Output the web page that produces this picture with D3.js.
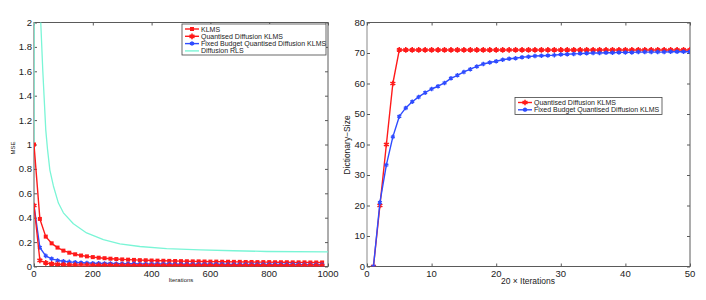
<!DOCTYPE html>
<html>
<head>
<meta charset="UTF-8">
<style>
  body{margin:0;background:#fff}
  svg{display:block;font-family:'Liberation Sans',Arial,sans-serif}
  .tick-label{font-size:9.5px;fill:#222}
  .leg text{font-size:7px;fill:#222}
</style>
</head>
<body>
<div id="chart"></div>
<script src="https://d3js.org/d3.v7.min.js"></script>
<script>
/* data : left panel (MSE vs iterations) */
const iters=[0,20,40,60,80,100,120,140,160,180,200,220,240,260,280,300,320,340,360,380,
             400,420,440,460,480,500,520,540,560,580,600,620,640,660,680,700,720,740,760,780,
             800,820,840,860,880,900,920,940,960,980];
const klms=[1.0,0.39,0.245,0.19,0.155,0.13,0.113,0.1,0.09,0.083,0.077,0.072,0.068,0.064,0.061,0.058,0.056,0.054,0.052,0.051,
            0.049,0.048,0.047,0.046,0.045,0.044,0.043,0.042,0.042,0.041,0.040,0.040,0.039,0.039,0.038,0.038,0.037,0.037,0.036,0.036,
            0.036,0.035,0.035,0.035,0.034,0.034,0.034,0.033,0.033,0.033];
const qdklms=[0.5,0.05,0.03,0.022,0.018,0.015,0.013,0.012,0.011,0.011,0.010,0.010,0.010,0.009,0.009,0.009,0.009,0.008,0.008,0.008,
              0.008,0.008,0.008,0.007,0.007,0.007,0.007,0.007,0.007,0.007,0.007,0.006,0.006,0.006,0.006,0.006,0.006,0.006,0.006,0.006,
              0.006,0.006,0.006,0.006,0.005,0.005,0.005,0.005,0.005,0.005];
const fbklms=[0.5,0.155,0.087,0.063,0.05,0.043,0.038,0.034,0.031,0.029,0.027,0.026,0.025,0.024,0.023,0.023,0.022,0.022,0.021,0.021,
              0.021,0.020,0.020,0.020,0.019,0.019,0.019,0.019,0.018,0.018,0.018,0.018,0.018,0.017,0.017,0.017,0.017,0.017,0.017,0.016,
              0.016,0.016,0.016,0.016,0.016,0.016,0.015,0.015,0.015,0.015];
const rlsIters=[0,2,23,30,40,46,54,66,83,100,134,179,236,292,360,451,565,678,791,1000];
const rlsMse=[1.0,6.0,2.0,1.6,1.12,0.96,0.79,0.66,0.52,0.44,0.35,0.275,0.22,0.186,0.164,0.146,0.137,0.129,0.123,0.12];

/* data : right panel (dictionary size) */
const steps=[1,2,3,4,5,6,7,8,9,10,11,12,13,14,15,16,17,18,19,20,21,22,23,24,25,
             26,27,28,29,30,31,32,33,34,35,36,37,38,39,40,41,42,43,44,45,46,47,48,49,50];
const qdDict=[0,20,40,60,71,71,71,71,71,71,71,71,71,71,71,71,71,71,71,71,71,71,71,71,71,
              71,71,71,71,71,71,71,71,71,71,71,71,71,71,71,71,71,71,71,71,71,71,71,71,71];
const fbDict=[0,21,33.3,42.5,49.2,52,54,55.6,57,58.2,59.1,60.2,61.7,62.7,63.8,64.7,65.6,66.4,66.9,67.3,67.8,68.1,68.3,68.6,68.8,
              69.0,69.1,69.2,69.3,69.5,69.6,69.7,69.8,69.9,70.0,70.0,70.1,70.1,70.2,70.2,70.2,70.3,70.3,70.3,70.3,70.3,70.4,70.4,70.4,70.4];

const leftXTicks=[0,200,400,600,800,1000];
const leftYTicks=[0,0.2,0.4,0.6,0.8,1,1.2,1.4,1.6,1.8,2];
const rightXTicks=[0,10,20,30,40,50];
const rightYTicks=[0,10,20,30,40,50,60,70,80];

const RED="#ff1a1a", BLUE="#2f4cff", CYAN="#7af5d6", AX="#5a5a5a";

const svg=d3.select("#chart").append("svg").attr("width",706).attr("height",300);
svg.append("rect").attr("width",706).attr("height",300).attr("fill","#fff");

/* markers */
function mark(g,type,color,x,y){
  if(type==="sq"){
    g.append("rect").attr("x",x-2).attr("y",y-2).attr("width",4).attr("height",4).attr("fill",color);
  }else if(type==="star"){
    g.append("path").attr("transform",`translate(${x},${y})`)
     .attr("d",d3.symbol(d3.symbolAsterisk,22)()).attr("stroke",color).attr("stroke-width",1.6).attr("fill","none");
  }else if(type==="x"){
    g.append("path").attr("transform",`translate(${x},${y})`)
     .attr("d",d3.symbol(d3.symbolAsterisk,14)()).attr("stroke",color).attr("stroke-width",1.4).attr("fill","none");
  }
}

function panel(o){
  const x=d3.scaleLinear().domain(o.xd).range(o.xr),
        y=d3.scaleLinear().domain(o.yd).range(o.yr);
  const g=svg.append("g");
  const clipId="clip"+o.id;
  svg.append("clipPath").attr("id",clipId).append("rect")
     .attr("x",o.xr[0]).attr("y",o.yr[1]).attr("width",o.xr[1]-o.xr[0]).attr("height",o.yr[0]-o.yr[1]);

  // box
  g.append("rect").attr("x",o.xr[0]).attr("y",o.yr[1]).attr("width",o.xr[1]-o.xr[0]).attr("height",o.yr[0]-o.yr[1])
   .attr("fill","none").attr("stroke",AX).attr("stroke-width",1);
  if(o.leftAxisColor){
    g.append("line").attr("x1",o.xr[0]).attr("x2",o.xr[0]).attr("y1",o.yr[1]).attr("y2",o.yr[0])
     .attr("stroke",o.leftAxisColor).attr("stroke-width",2);
  }
  // inward ticks, all four sides
  const bottom=d3.axisBottom(x).tickValues(o.xt).tickSize(-3).tickFormat("").tickSizeOuter(0);
  const top=d3.axisTop(x).tickValues(o.xt).tickSize(-3).tickFormat("").tickSizeOuter(0);
  const left=d3.axisLeft(y).tickValues(o.yt).tickSize(-3).tickFormat("").tickSizeOuter(0);
  const right=d3.axisRight(y).tickValues(o.yt).tickSize(-3).tickFormat("").tickSizeOuter(0);
  [[bottom,`translate(0,${o.yr[0]})`],[top,`translate(0,${o.yr[1]})`],
   [left,`translate(${o.xr[0]},0)`],[right,`translate(${o.xr[1]},0)`]].forEach(([a,t])=>{
    const ag=g.append("g").attr("transform",t).call(a);
    ag.select(".domain").remove();
    ag.selectAll("line").attr("stroke",AX);
  });
  // tick labels
  g.selectAll(null).data(o.xt).enter().append("text").attr("class","tick-label")
   .attr("x",d=>x(d)).attr("y",o.yr[0]+10).attr("text-anchor","middle").text(d=>d);
  g.selectAll(null).data(o.yt).enter().append("text").attr("class","tick-label")
   .attr("x",o.xr[0]-2).attr("y",d=>y(d)+3.4).attr("text-anchor","end").text(d=>d3.format("~g")(d));

  const plot=g.append("g").attr("clip-path",`url(#${clipId})`);
  o.series.forEach(s=>{
    const pts=s.xs.map((v,i)=>[x(v),y(s.ys[i])]);
    plot.append("path").attr("d",d3.line()(pts)).attr("fill","none")
        .attr("stroke",s.color).attr("stroke-width",s.w||1.4).attr("stroke-linejoin","round");
    if(s.marker) pts.forEach(p=>mark(plot,s.marker,s.color,p[0],p[1]));
  });
  return {x,y,g};
}

/* left panel */
const L=panel({id:"L",xd:[0,1000],xr:[34,328],yd:[0,2],yr:[266.5,22.5],xt:leftXTicks,yt:leftYTicks,
  series:[
    {xs:rlsIters,ys:rlsMse,color:CYAN,w:1.3},
    {xs:iters,ys:klms,color:RED,marker:"sq"},
    {xs:iters,ys:fbklms,color:BLUE,marker:"x"},
    {xs:iters,ys:qdklms,color:RED,marker:"star"}
  ]});
svg.append("text").attr("transform","translate(15,148) rotate(-90)").attr("text-anchor","middle")
   .style("font-size","6px").attr("fill","#222").text("MSE");
svg.append("text").attr("x",181).attr("y",282).attr("text-anchor","middle")
   .style("font-size","6px").attr("fill","#222").text("Iterations");

/* right panel */
const R=panel({id:"R",xd:[0,50],xr:[367,690],yd:[0,80],yr:[266.5,22.5],xt:rightXTicks,yt:rightYTicks,
  leftAxisColor:"#c4c4c4",
  series:[
    {xs:steps,ys:qdDict,color:RED,marker:"star"},
    {xs:steps,ys:fbDict,color:BLUE,marker:"x"}
  ]});
svg.append("text").attr("transform","translate(350,145) rotate(-90)").attr("text-anchor","middle")
   .style("font-size","8.5px").attr("fill","#222").text("Dictionary\u2212Size");
svg.append("text").attr("x",528).attr("y",284).attr("text-anchor","middle")
   .style("font-size","8.5px").attr("fill","#222").text("20 \u00d7 Iterations");

/* legends */
function legend(x0,y0,w,h,items){
  const lg=svg.append("g").attr("class","leg");
  lg.append("rect").attr("x",x0).attr("y",y0).attr("width",w).attr("height",h)
    .attr("fill","#fff").attr("stroke","#444").attr("stroke-width",0.8);
  items.forEach((it,i)=>{
    const yy=y0+5+i*7.3;
    lg.append("line").attr("x1",x0+3).attr("x2",x0+17).attr("y1",yy).attr("y2",yy)
      .attr("stroke",it.color).attr("stroke-width",1.4);
    if(it.marker) mark(lg,it.marker,it.color,x0+10,yy);
    lg.append("text").attr("x",x0+19).attr("y",yy+2.5).text(it.label);
  });
}
legend(182,24,144,31,[
  {label:"KLMS",color:RED,marker:"sq"},
  {label:"Quantised Diffusion KLMS",color:RED,marker:"star"},
  {label:"Fixed Budget Quantised Diffusion KLMS",color:BLUE,marker:"x"},
  {label:"Diffusion RLS",color:CYAN}
]);
legend(515,97.5,147,17,[
  {label:"Quantised Diffusion KLMS",color:RED,marker:"star"},
  {label:"Fixed Budget Quantised Diffusion KLMS",color:BLUE,marker:"x"}
]);
</script>
</body>
</html>
